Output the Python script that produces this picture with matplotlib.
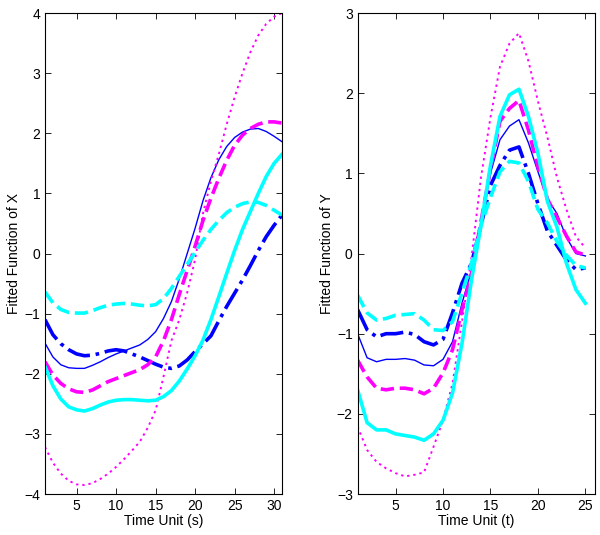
import numpy as np
import matplotlib.pyplot as plt

plt.rcParams['font.family'] = ['Liberation Sans', 'DejaVu Sans']

# Left panel: fitted functions of X, time unit s = 1..31
s = np.arange(1, 32)
x_blue_solid = [-1.49, -1.72, -1.85, -1.90, -1.91, -1.91, -1.86, -1.80, -1.73, -1.67, -1.62,
                -1.57, -1.52, -1.43, -1.30, -1.08, -0.80, -0.42, 0.00, 0.42, 0.88,
                1.26, 1.56, 1.78, 1.93, 2.02, 2.07, 2.08, 2.03, 1.95, 1.86]
x_blue_dashdot = [-1.10, -1.35, -1.50, -1.60, -1.67, -1.70, -1.69, -1.66, -1.62, -1.60, -1.62,
                  -1.67, -1.72, -1.78, -1.84, -1.89, -1.91, -1.87, -1.77, -1.63, -1.50,
                  -1.37, -1.12, -0.88, -0.66, -0.44, -0.20, 0.05, 0.28, 0.47, 0.64]
x_mag_dashed = [-1.80, -2.02, -2.16, -2.25, -2.30, -2.31, -2.27, -2.20, -2.13, -2.08, -2.03,
                -1.98, -1.93, -1.85, -1.72, -1.45, -1.10, -0.68, -0.28, 0.12, 0.55,
                0.92, 1.25, 1.55, 1.80, 1.97, 2.08, 2.15, 2.19, 2.19, 2.17]
x_mag_dotted = [-3.22, -3.48, -3.66, -3.78, -3.84, -3.85, -3.82, -3.75, -3.66, -3.55, -3.42,
                -3.28, -3.13, -2.90, -2.61, -2.05, -1.45, -1.10, -0.65, -0.10, 0.67,
                1.20, 1.65, 2.15, 2.60, 3.00, 3.35, 3.63, 3.82, 3.94, 4.00]
x_cyan_solid = [-1.88, -2.20, -2.42, -2.55, -2.60, -2.62, -2.58, -2.52, -2.47, -2.44, -2.43,
                -2.43, -2.44, -2.45, -2.44, -2.38, -2.28, -2.12, -1.92, -1.70, -1.44,
                -1.10, -0.72, -0.33, 0.05, 0.40, 0.70, 1.00, 1.28, 1.50, 1.65]
x_cyan_dashed = [-0.64, -0.82, -0.93, -0.98, -0.99, -0.99, -0.95, -0.90, -0.86, -0.84, -0.83,
                 -0.84, -0.86, -0.87, -0.85, -0.75, -0.58, -0.38, -0.18, 0.02, 0.22,
                 0.40, 0.55, 0.68, 0.77, 0.83, 0.86, 0.85, 0.80, 0.72, 0.64]

# Right panel: fitted functions of Y, time unit t = 1..25
t = np.arange(1, 26)
y_blue_solid = [-1.00, -1.30, -1.35, -1.32, -1.32, -1.31, -1.33, -1.39, -1.40, -1.32, -1.10,
                -0.62, -0.21, 0.35, 1.00, 1.42, 1.59, 1.67, 1.38, 1.02, 0.68,
                0.50, 0.20, 0.00, -0.03]
y_blue_dashdot = [-0.70, -0.95, -1.04, -1.00, -1.00, -0.98, -1.01, -1.10, -1.14, -1.07, -0.74,
                  -0.37, -0.12, 0.35, 0.85, 1.10, 1.29, 1.33, 1.00, 0.62, 0.28,
                  0.10, -0.08, -0.20, -0.18]
y_mag_dashed = [-1.33, -1.54, -1.68, -1.70, -1.68, -1.68, -1.70, -1.75, -1.68, -1.49, -1.20,
                -0.70, -0.25, 0.40, 1.05, 1.65, 1.81, 1.91, 1.54, 1.08, 0.68,
                0.45, 0.22, 0.02, -0.02]
y_mag_dotted = [-2.16, -2.45, -2.60, -2.68, -2.74, -2.78, -2.76, -2.73, -2.41, -2.08, -1.62,
                -0.85, -0.05, 0.95, 1.70, 2.33, 2.62, 2.75, 2.40, 1.90, 1.45,
                0.95, 0.55, 0.21, 0.07]
y_cyan_solid = [-1.70, -2.11, -2.20, -2.20, -2.25, -2.27, -2.29, -2.33, -2.25, -2.08, -1.74,
                -1.12, -0.33, 0.35, 1.10, 1.71, 1.98, 2.05, 1.71, 1.25, 0.65,
                0.33, -0.12, -0.45, -0.62]
y_cyan_dashed = [-0.52, -0.74, -0.83, -0.81, -0.77, -0.76, -0.75, -0.83, -0.95, -0.96, -0.85,
                 -0.49, -0.12, 0.35, 0.70, 1.02, 1.15, 1.13, 0.90, 0.55, 0.38,
                 0.15, -0.02, -0.15, -0.18]

fig = plt.figure(figsize=(6, 5.35), dpi=100)
ax1 = fig.add_axes([0.075, 0.0766, 0.395, 0.899])
ax2 = fig.add_axes([0.596, 0.0766, 0.3955, 0.899])

def draw(ax, x, bs, bdd, md, mdot, cs, cd):
    ax.plot(x, bs, color='blue', lw=1.0)
    ax.plot(x, bdd, color='blue', lw=2.6, ls='-.')
    ax.plot(x, md, color='magenta', lw=2.6, ls='--')
    ax.plot(x, mdot, color='magenta', lw=1.4, ls=(0, (1.2, 2.0)))
    ax.plot(x, cs, color='cyan', lw=2.6)
    ax.plot(x, cd, color='cyan', lw=2.6, ls='--')
    ax.tick_params(direction='in', top=True, right=True, length=4, labelsize=10, width=0.6)
    for sp in ax.spines.values():
        sp.set_linewidth(0.8)

draw(ax1, s, x_blue_solid, x_blue_dashdot, x_mag_dashed, x_mag_dotted, x_cyan_solid, x_cyan_dashed)
ax1.set_xlim(1, 31)
ax1.set_ylim(-4, 4)
ax1.set_xticks([5, 10, 15, 20, 25, 30])
ax1.set_yticks(range(-4, 5))
ax1.set_xlabel('Time Unit (s)', fontsize=10, labelpad=1)
ax1.set_ylabel('Fitted Function of X', fontsize=10, labelpad=2)

draw(ax2, t, y_blue_solid, y_blue_dashdot, y_mag_dashed, y_mag_dotted, y_cyan_solid, y_cyan_dashed)
ax2.set_xlim(1, 26)
ax2.set_ylim(-3, 3)
ax2.set_xticks([5, 10, 15, 20, 25])
ax2.set_yticks(range(-3, 4))
ax2.set_xlabel('Time Unit (t)', fontsize=10, labelpad=1)
ax2.set_ylabel('Fitted Function of Y', fontsize=10, labelpad=2)

fig.savefig('out.png', dpi=100)
